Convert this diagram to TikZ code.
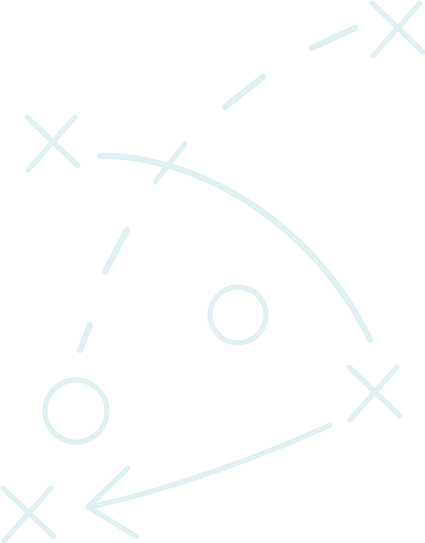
\documentclass[tikz,border=0pt]{standalone}
\usetikzlibrary{calc}
\usetikzlibrary{decorations.pathmorphing}
\usetikzlibrary{scopes}

\definecolor{chalk}{RGB}{222,239,241}
\tikzset{
  chalk/.style={draw=chalk, line width=5pt, line cap=round, line join=round,
    postaction={draw=white, line width=0.4pt, opacity=0.5, decorate,
      decoration={random steps, segment length=4pt, amplitude=0.7pt}}},
  cross/.pic={
    \draw [chalk] (-25,-25) -- (26,24);
    \draw [chalk] (23,-25) -- (-24,28);
  }
}

\begin{document}
\begin{tikzpicture}[x=1pt, y=-1pt]
    \useasboundingbox (0,0) rectangle (425,543);
    { []
        % the four crosses
        \coordinate (xtop) at (397,28);
        \coordinate (xleft) at (52,142);
        \coordinate (xright) at (374,392);
        \coordinate (xbot) at (28,513);
        \foreach \c in {xtop,xleft,xright,xbot}
            \pic at (\c) {cross};
    }
    { []
        % the two circles
        \node [chalk, circle, inner sep=0pt, minimum size=56pt] (oa) at (238,315) {};
        \node [chalk, circle, inner sep=0pt, minimum size=62pt] (ob) at (76,411) {};
    }
    { []
        % broken line from the top cross down to the lower circle
        \draw [chalk, line width=6pt] (355,28) -- (312,48);
        \draw [chalk, line width=6pt] (263,77) -- (225,107);
        \draw [chalk, line width=6pt] (127,230) -- (105,272);
        \draw [chalk, line width=6pt] (90,325) -- (80,350);
    }
    { []
        % long curve with its tick
        \coordinate (a) at (100,156);
        \coordinate (b) at (370,340);
        \draw [chalk, line width=6pt] (a) .. controls (200,155) and (315,225) .. (b);
        \draw [chalk] (155,182) -- (185,144);
    }
    { []
        % arrow towards the bottom cross
        \coordinate (c) at (330,425);
        \coordinate (d) at (88,507);
        \draw [chalk] (c) .. controls (250,462) and (150,495) .. (d);
        \draw [chalk] (d) -- (128,468);
        \draw [chalk] (d) -- (137,537);
    }
\end{tikzpicture}
\end{document}
